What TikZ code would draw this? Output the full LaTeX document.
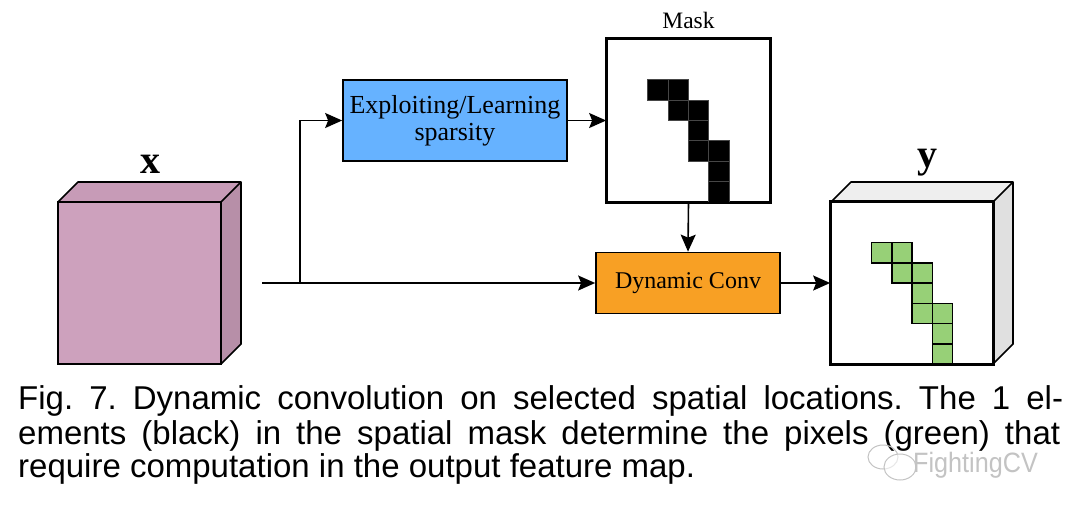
\documentclass[tikz,border=0pt]{standalone}
\usepackage{fontspec}
\setmainfont{Liberation Serif}
\newfontfamily\capfont{Liberation Sans}
\usetikzlibrary{arrows.meta}
\definecolor{xfront}{RGB}{205,161,189}
\definecolor{xtop}{RGB}{199,155,183}
\definecolor{xside}{RGB}{183,143,168}
\definecolor{explblue}{RGB}{102,178,255}
\definecolor{dconvorange}{RGB}{248,160,36}
\definecolor{cellgreen}{RGB}{151,208,119}
\definecolor{ytop}{RGB}{238,238,238}
\definecolor{yside}{RGB}{224,224,224}
\definecolor{wm}{RGB}{195,195,195}
\tikzset{
  boxline/.style={draw=black,line width=1.7pt},
  procbox/.style={boxline,rectangle,inner sep=0pt,align=center},
  conn/.style={line width=1.6pt,-{Stealth[length=17pt,width=15pt,inset=3pt]}},
  maskcell/.style={fill=black,draw={rgb,255:red,70;green,70;blue,70},line width=0.8pt},
  greencell/.style={fill=cellgreen,draw=black,line width=1.5pt},
  caption/.style={anchor=base west,inner sep=0pt,font=\capfont\fontsize{33}{34}\selectfont\frenchspacing},
}
\begin{document}
\begin{tikzpicture}[x=1pt,y=-1pt]
\useasboundingbox[fill=white] (0,0) rectangle (1080,507);
% ---- input cube x
\fill[xtop] (58,202) -- (78,182) -- (241,182) -- (221,202) -- cycle;
\fill[xside] (221,202) -- (241,182) -- (241,344) -- (221,364) -- cycle;
\node[procbox,fill=xfront,minimum width=163pt,minimum height=162pt] (xcube) at (139.5,283) {};
\draw[boxline,line join=round] (58,202) -- (78,182) -- (241,182) -- (241,344) -- (221,364);
\draw[boxline] (221,202) -- (241,182);
\node[anchor=base,inner sep=0pt,font=\fontsize{40}{40}\selectfont] (xlab) at (150,173) {$\mathbf{x}$};
% ---- processing boxes
\node[procbox,fill=explblue,minimum width=224pt,minimum height=81pt,font=\fontsize{26}{27}\selectfont] (expl) at (455,120.5) {Exploiting/Learning\\sparsity};
\node[procbox,fill=dconvorange,minimum width=184pt,minimum height=61pt,font=\fontsize{24}{24}\selectfont] (dconv) at (688,283) {Dynamic Conv};
% ---- mask
\node[procbox,fill=white,minimum width=163pt,minimum height=163pt] (mask) at (688.5,120.5) {};
\node[anchor=base,inner sep=0pt,font=\fontsize{23.5}{24}\selectfont] (masklab) at (688.5,28) {Mask};
\begin{scope}[shift={(607,39)}]
\foreach \c/\r in {2/2,3/2,3/3,4/3,4/4,4/5,5/5,5/6,5/7}
  \draw[maskcell] ({\c*20.375},{\r*20.375}) rectangle ({(\c+1)*20.375},{(\r+1)*20.375});
\end{scope}
\draw[boxline] (mask.south west) rectangle (mask.north east);
% ---- output cube y
\fill[ytop] (831,202) -- (851,182) -- (1013,182) -- (993,202) -- cycle;
\fill[yside] (993,202) -- (1013,182) -- (1013,344) -- (993,364) -- cycle;
\node[procbox,fill=white,minimum width=162pt,minimum height=162pt] (ycube) at (912,283) {};
\begin{scope}[shift={(831,202)}]
\foreach \c/\r in {2/2,3/2,3/3,4/3,4/4,4/5,5/5,5/6,5/7}
  \draw[greencell] ({\c*20.25},{\r*20.25}) rectangle ({(\c+1)*20.25},{(\r+1)*20.25});
\end{scope}
\draw[boxline] (ycube.south west) rectangle (ycube.north east);
\draw[boxline,line join=round] (831,202) -- (851,182) -- (1013,182) -- (1013,344) -- (993,364);
\draw[boxline] (993,202) -- (1013,182);
\node[anchor=base,inner sep=0pt,font=\fontsize{40}{40}\selectfont] (ylab) at (927,167) {$\mathbf{y}$};
% ---- connectors
\coordinate (xout) at (262,283);
\coordinate (branch) at (300,283);
\draw[conn] (xout) -- (dconv.west);
\draw[conn] (branch) |- (expl.west);
\draw[conn] (expl.east) -- (expl.east -| mask.west);
\draw[conn] (mask.south) -- (dconv.north);
\draw[conn] (dconv.east) -- (dconv.east -| ycube.west);
% ---- caption
\node[caption] (cap1) at (18,409) {\makebox[1045pt][s]{Fig. 7. Dynamic convolution on selected spatial locations. The 1 el-}};
\node[caption] (cap2) at (18,444) {\makebox[1042pt][s]{ements (black) in the spatial mask determine the pixels (green) that}};
\node[caption] (cap3) at (18,477) {require computation in the output feature map.};
% ---- watermark
\draw[wm,line width=1pt] (883,457) ellipse [x radius=15pt,y radius=12pt];
\draw[wm,line width=1pt,fill=white,fill opacity=0.6] (900,467) ellipse [x radius=16pt,y radius=13pt];
\node[anchor=base west,inner sep=0pt,text=wm,font=\capfont\fontsize{28}{28}\selectfont] (wmtext) at (913,472) {\scalebox{0.9}[1]{FightingCV}};
\end{tikzpicture}
\end{document}
